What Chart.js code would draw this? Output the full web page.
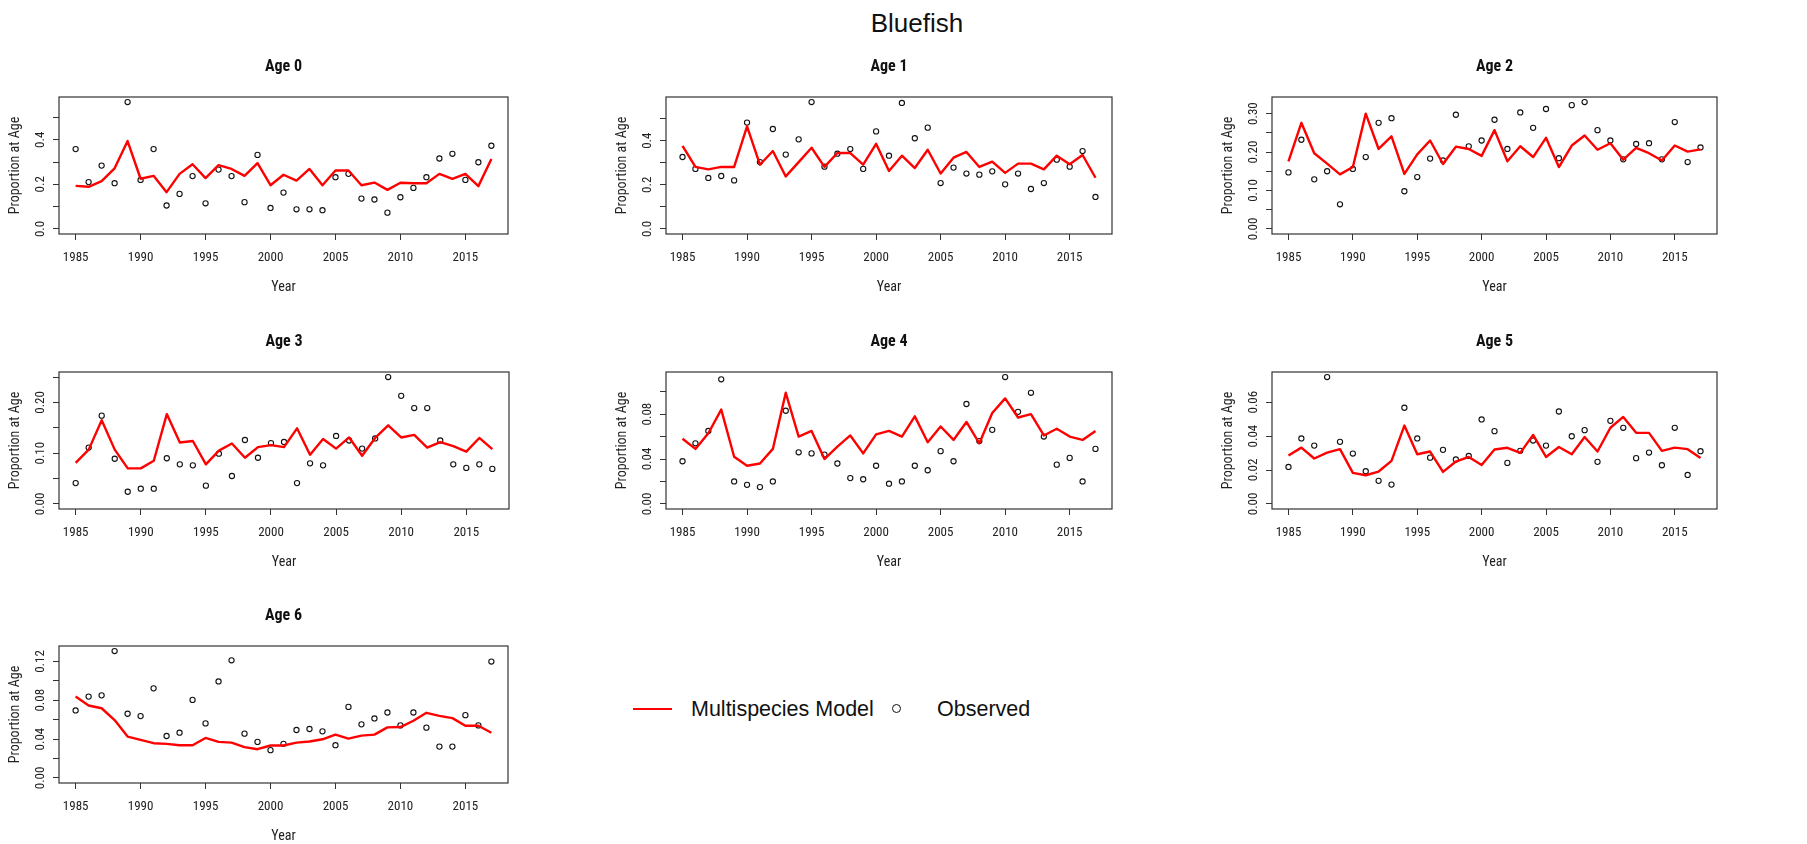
<!DOCTYPE html>
<html lang="en">
<head>
  <meta charset="UTF-8" />
  <title>Bluefish - Proportion at Age</title>
  <script src="https://cdn.jsdelivr.net/npm/chart.js"></script>
  <style>
    body { margin: 0; background: #fff; width: 1807px; height: 844px; position: relative; overflow: hidden; font-family: 'Liberation Sans', Arial, sans-serif; color: #111; }
    h1 { position: absolute; left: 767px; width: 300px; top: 8px; margin: 0; text-align: center; font-weight: normal; font-size: 26px; line-height: 30px; }
    canvas { position: absolute; }
    .leg-line { position: absolute; left: 633px; top: 708px; width: 39px; border-top: 2px solid #ff0000; }
    .leg-dot { position: absolute; left: 892px; top: 704px; width: 7px; height: 7px; border: 1.5px solid #111; border-radius: 50%; }
    .leg-text { position: absolute; top: 695px; font-size: 21.5px; line-height: 28px; }
  </style>
</head>
<body>

<h1>Bluefish</h1>
<div class="leg-line"></div>
<div class="leg-text" style="left: 691px;">Multispecies Model</div>
<div class="leg-dot"></div>
<div class="leg-text" style="left: 937px;">Observed</div>

<script>
// years and x tick labels
const years = [1985, 1986, 1987, 1988, 1989, 1990, 1991, 1992, 1993, 1994, 1995, 1996, 1997, 1998, 1999, 2000,
  2001, 2002, 2003, 2004, 2005, 2006, 2007, 2008, 2009, 2010, 2011, 2012, 2013, 2014, 2015, 2016, 2017];
const xTickValues = [1985, 1990, 1995, 2000, 2005, 2010, 2015];

// Age 0
const age0Model = [0.193, 0.189, 0.214, 0.272, 0.394, 0.225, 0.238, 0.165, 0.247, 0.290, 0.228, 0.286, 0.269, 0.238, 0.295, 0.196,
  0.243, 0.217, 0.269, 0.196, 0.262, 0.262, 0.196, 0.208, 0.175, 0.207, 0.205, 0.205, 0.247, 0.225, 0.247, 0.192, 0.314];
const age0Obs = [0.358, 0.210, 0.284, 0.205, 0.569, 0.220, 0.358, 0.105, 0.157, 0.237, 0.115, 0.266, 0.237, 0.120, 0.332, 0.094,
  0.163, 0.088, 0.088, 0.084, 0.232, 0.247, 0.136, 0.132, 0.073, 0.142, 0.184, 0.232, 0.316, 0.337, 0.220, 0.299, 0.373];
const age0YTicks = [0, 0.1, 0.2, 0.3, 0.4, 0.5];
const age0YLabels = ['0.0', '', '0.2', '', '0.4', ''];

// Age 1
const age1Model = [0.377, 0.281, 0.270, 0.281, 0.281, 0.465, 0.291, 0.353, 0.238, 0.303, 0.368, 0.281, 0.344, 0.344, 0.291, 0.386,
  0.263, 0.332, 0.276, 0.359, 0.251, 0.323, 0.349, 0.281, 0.305, 0.254, 0.296, 0.296, 0.270, 0.332, 0.293, 0.335, 0.232];
const age1Obs = [0.326, 0.272, 0.231, 0.240, 0.220, 0.482, 0.303, 0.453, 0.337, 0.406, 0.575, 0.282, 0.341, 0.362, 0.272, 0.442,
  0.332, 0.571, 0.411, 0.459, 0.208, 0.278, 0.251, 0.246, 0.261, 0.202, 0.251, 0.181, 0.208, 0.314, 0.282, 0.353, 0.145];
const age1YTicks = [0, 0.1, 0.2, 0.3, 0.4, 0.5];
const age1YLabels = ['0.0', '', '0.2', '', '0.4', ''];

// Age 2
const age2Model = [0.176, 0.276, 0.197, 0.170, 0.142, 0.161, 0.300, 0.208, 0.241, 0.143, 0.194, 0.230, 0.169, 0.214, 0.208, 0.190,
  0.257, 0.176, 0.215, 0.187, 0.237, 0.161, 0.217, 0.243, 0.206, 0.223, 0.180, 0.211, 0.197, 0.178, 0.217, 0.201, 0.207];
const age2Obs = [0.147, 0.232, 0.129, 0.150, 0.064, 0.156, 0.187, 0.276, 0.288, 0.098, 0.135, 0.183, 0.178, 0.297, 0.215, 0.230,
  0.284, 0.208, 0.303, 0.263, 0.312, 0.184, 0.322, 0.330, 0.257, 0.230, 0.181, 0.221, 0.223, 0.181, 0.278, 0.174, 0.212];
const age2YTicks = [0, 0.05, 0.1, 0.15, 0.2, 0.25, 0.3];
const age2YLabels = ['0.00', '', '0.10', '', '0.20', '', '0.30'];

// Age 3
const age3Model = [0.081, 0.107, 0.165, 0.107, 0.070, 0.070, 0.085, 0.177, 0.121, 0.124, 0.078, 0.105, 0.119, 0.091, 0.112, 0.116,
  0.112, 0.149, 0.097, 0.128, 0.109, 0.131, 0.095, 0.130, 0.155, 0.131, 0.136, 0.111, 0.122, 0.114, 0.103, 0.130, 0.108];
const age3Obs = [0.041, 0.111, 0.174, 0.089, 0.024, 0.030, 0.030, 0.090, 0.078, 0.076, 0.036, 0.099, 0.055, 0.126, 0.091, 0.120,
  0.122, 0.041, 0.080, 0.076, 0.134, 0.125, 0.109, 0.129, 0.250, 0.213, 0.189, 0.189, 0.125, 0.078, 0.071, 0.078, 0.069];
const age3YTicks = [0, 0.05, 0.1, 0.15, 0.2, 0.25];
const age3YLabels = ['0.00', '', '0.10', '', '0.20', ''];

// Age 4
const age4Model = [0.058, 0.049, 0.063, 0.084, 0.042, 0.034, 0.036, 0.049, 0.099, 0.060, 0.065, 0.040, 0.051, 0.061, 0.045, 0.062,
  0.065, 0.060, 0.078, 0.055, 0.069, 0.057, 0.073, 0.054, 0.081, 0.094, 0.077, 0.080, 0.061, 0.067, 0.060, 0.057, 0.065];
const age4Obs = [0.038, 0.054, 0.065, 0.111, 0.020, 0.017, 0.015, 0.020, 0.083, 0.046, 0.045, 0.044, 0.036, 0.023, 0.022, 0.034,
  0.018, 0.020, 0.034, 0.030, 0.047, 0.038, 0.089, 0.056, 0.066, 0.113, 0.082, 0.099, 0.060, 0.035, 0.041, 0.020, 0.049];
const age4YTicks = [0, 0.02, 0.04, 0.06, 0.08, 0.1];
const age4YLabels = ['0.00', '', '0.04', '', '0.08', ''];

// Age 5
const age5Model = [0.0285, 0.0332, 0.0268, 0.0303, 0.0323, 0.0183, 0.0169, 0.0191, 0.0254, 0.0462, 0.0293, 0.0309, 0.0189, 0.0250, 0.0277, 0.0230,
  0.0321, 0.0331, 0.0301, 0.0407, 0.0277, 0.0336, 0.0293, 0.0395, 0.0309, 0.0449, 0.0513, 0.0419, 0.0419, 0.0313, 0.0332, 0.0323, 0.0271];
const age5Obs = [0.0218, 0.0386, 0.0344, 0.0748, 0.0366, 0.0297, 0.0193, 0.0136, 0.0114, 0.0567, 0.0386, 0.0273, 0.0319, 0.0262, 0.0283, 0.0498,
  0.0429, 0.0242, 0.0313, 0.0374, 0.0344, 0.0545, 0.0399, 0.0435, 0.0248, 0.0490, 0.0449, 0.0270, 0.0303, 0.0228, 0.0449, 0.0171, 0.0311];
const age5YTicks = [0, 0.02, 0.04, 0.06];
const age5YLabels = ['0.00', '0.02', '0.04', '0.06'];

// Age 6
const age6Model = [0.0838, 0.0746, 0.0718, 0.0596, 0.0426, 0.0392, 0.0358, 0.0351, 0.0337, 0.0337, 0.0412, 0.0371, 0.0364, 0.0317, 0.0296, 0.0334,
  0.0334, 0.0364, 0.0375, 0.0398, 0.0446, 0.0405, 0.0436, 0.0446, 0.0521, 0.0524, 0.0589, 0.0671, 0.0640, 0.0616, 0.0538, 0.0538, 0.0466];
const age6Obs = [0.0695, 0.0838, 0.0851, 0.1307, 0.0661, 0.0637, 0.0923, 0.0432, 0.0466, 0.0804, 0.0562, 0.0994, 0.1212, 0.0456, 0.0371, 0.0286,
  0.0351, 0.0494, 0.0504, 0.0480, 0.0337, 0.0732, 0.0552, 0.0613, 0.0674, 0.0541, 0.0674, 0.0518, 0.0323, 0.0323, 0.0647, 0.0541, 0.1199];
const age6YTicks = [0, 0.02, 0.04, 0.06, 0.08, 0.1, 0.12];
const age6YLabels = ['0.00', '', '0.04', '', '0.08', '', '0.12'];

// panel placement: plot box left/top/width in page pixels
const panels = [
  { title: 'Age 0', model: age0Model, obs: age0Obs, yTicks: age0YTicks, yLabels: age0YLabels, left: 59, top: 97, w: 449, pad: 4 },
  { title: 'Age 1', model: age1Model, obs: age1Obs, yTicks: age1YTicks, yLabels: age1YLabels, left: 666, top: 97, w: 446, pad: 4 },
  { title: 'Age 2', model: age2Model, obs: age2Obs, yTicks: age2YTicks, yLabels: age2YLabels, left: 1272, top: 97, w: 445, pad: 1 },
  { title: 'Age 3', model: age3Model, obs: age3Obs, yTicks: age3YTicks, yLabels: age3YLabels, left: 59, top: 372, w: 450, pad: 1 },
  { title: 'Age 4', model: age4Model, obs: age4Obs, yTicks: age4YTicks, yLabels: age4YLabels, left: 666, top: 372, w: 446, pad: 1 },
  { title: 'Age 5', model: age5Model, obs: age5Obs, yTicks: age5YTicks, yLabels: age5YLabels, left: 1272, top: 372, w: 445, pad: 1 },
  { title: 'Age 6', model: age6Model, obs: age6Obs, yTicks: age6YTicks, yLabels: age6YLabels, left: 59, top: 646, w: 449, pad: 1 }
];

const BOX_H = 137, LEFT_W = 58, TOP_H = 50, BOTTOM_H = 70, RIGHT_W = 12;
const narrow = "'Roboto Condensed', 'DejaVu Sans Condensed', sans-serif";
const txt = '#222';

// box round the plot region + panel title
const framePlugin = {
  id: 'frame',
  afterDraw(chart, args, opts) {
    const { ctx, chartArea: a } = chart;
    ctx.save();
    ctx.strokeStyle = '#333';
    ctx.lineWidth = 1.2;
    ctx.strokeRect(a.left, a.top, a.right - a.left, a.bottom - a.top);
    ctx.fillStyle = '#111';
    ctx.font = 'bold 16px ' + narrow;
    ctx.textAlign = 'center';
    ctx.textBaseline = 'middle';
    ctx.fillText(opts.title, (a.left + a.right) / 2, a.top - 30);
    ctx.restore();
  }
};

panels.forEach(p => {
  const cv = document.createElement('canvas');
  cv.width = p.w + LEFT_W + RIGHT_W;
  cv.height = BOX_H + TOP_H + BOTTOM_H;
  cv.style.left = (p.left - LEFT_W) + 'px';
  cv.style.top = (p.top - TOP_H) + 'px';
  document.body.appendChild(cv);

  const hi = Math.max(...p.obs, ...p.model);

  new Chart(cv, {
    type: 'line',
    data: {
      datasets: [
        {
          label: 'Multispecies Model',
          data: years.map((y, i) => ({ x: y, y: p.model[i] })),
          borderColor: '#ff0000',
          borderWidth: 2.4,
          borderJoinStyle: 'round',
          pointRadius: 0,
          tension: 0
        },
        {
          label: 'Observed',
          data: years.map((y, i) => ({ x: y, y: p.obs[i] })),
          showLine: false,
          pointRadius: 2.6,
          pointBorderWidth: 1.1,
          pointBorderColor: '#111',
          pointBackgroundColor: 'rgba(0,0,0,0)'
        }
      ]
    },
    options: {
      responsive: false,
      animation: false,
      events: [],
      layout: { padding: { top: TOP_H, right: RIGHT_W, left: 0, bottom: 0 } },
      plugins: {
        legend: { display: false },
        tooltip: { enabled: false },
        frame: { title: p.title }
      },
      scales: {
        x: {
          type: 'linear',
          min: 1983.72,
          max: 2018.28,
          afterBuildTicks: s => { s.ticks = xTickValues.map(v => ({ value: v })); },
          afterFit: s => { s.height = BOTTOM_H; },
          ticks: { autoSkip: false, maxRotation: 0, padding: 9.5, color: txt, font: { family: narrow, size: 13 }, callback: v => String(v) },
          grid: { drawOnChartArea: false, tickLength: 6, color: '#333' },
          border: { display: false },
          title: { display: true, text: 'Year', color: txt, font: { family: narrow, size: 14 }, padding: { top: 0, bottom: 8.6 } }
        },
        y: {
          type: 'linear',
          min: -0.04 * hi,
          max: 1.04 * hi,
          afterBuildTicks: s => { s.ticks = p.yTicks.map(v => ({ value: v })); },
          afterFit: s => { s.width = LEFT_W; },
          ticks: { autoSkip: false, minRotation: 90, maxRotation: 90, crossAlign: 'center', padding: p.pad, color: txt,
                   font: { family: narrow, size: 13 }, callback: (v, i) => p.yLabels[i] },
          grid: { drawOnChartArea: false, tickLength: 6, color: '#333' },
          border: { display: false },
          title: { display: true, text: 'Proportion at Age', color: txt, font: { family: narrow, size: 14 }, padding: { top: 6, bottom: 0 } }
        }
      }
    },
    plugins: [framePlugin]
  });
});
</script>

</body>
</html>
